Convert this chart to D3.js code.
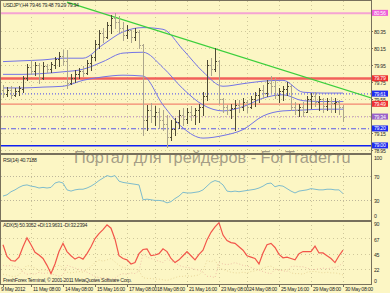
<!DOCTYPE html>
<html>
<head>
<meta charset="utf-8">
<script src="https://cdn.jsdelivr.net/npm/d3@7"></script>
<style>
body{margin:0;background:#fcf6c4;}
svg{display:block;font-family:"Liberation Sans",Arial,sans-serif;}
</style>
</head>
<body>
<div id="vis"></div>
<script>
// USDJPY H4 bars, one value per bar
var opens = [79.66,79.61,79.65,79.60,79.64,79.67,79.80,79.93,79.88,79.95,
  79.80,79.94,79.90,79.95,80.02,80.06,80.00,79.74,79.80,79.85,
  79.88,79.86,79.97,80.04,80.20,80.33,80.28,80.42,80.50,80.45,
  80.38,80.30,80.36,80.28,80.34,80.18,79.30,79.42,79.35,79.40,
  79.30,79.26,79.10,79.20,79.28,79.36,79.32,79.40,79.36,79.42,
  79.46,79.58,79.95,79.90,80.00,79.55,79.45,79.42,79.44,79.48,
  79.45,79.52,79.46,79.55,79.60,79.65,79.62,79.74,79.70,79.60,
  79.64,79.67,79.70,79.46,79.42,79.46,79.40,79.55,79.58,79.52,
  79.55,79.47,79.53,79.50,79.52,79.46];
var highs = [79.72,79.69,79.70,79.68,79.70,79.82,79.96,80.01,79.99,79.97,
  79.99,79.96,79.99,80.04,80.10,80.13,80.13,79.84,79.89,79.92,
  79.94,80.01,80.07,80.24,80.36,80.39,80.46,80.54,80.56,80.53,
  80.46,80.42,80.36,80.39,80.36,80.20,79.48,79.50,79.47,79.44,
  79.42,79.36,79.30,79.33,79.42,79.44,79.44,79.47,79.44,79.49,
  79.63,80.01,80.03,80.15,80.01,79.56,79.48,79.49,79.54,79.54,
  79.56,79.54,79.59,79.63,79.68,79.72,79.77,79.82,79.80,79.68,
  79.70,79.75,79.72,79.51,79.49,79.51,79.59,79.62,79.63,79.59,
  79.56,79.56,79.57,79.56,79.54,79.48];
var lows = [79.57,79.59,79.56,79.59,79.60,79.63,79.77,79.84,79.83,79.74,
  79.78,79.87,79.87,79.92,79.94,79.95,79.68,79.73,79.75,79.80,
  79.82,79.84,79.89,80.01,80.15,80.22,80.27,80.33,80.39,80.34,
  80.24,80.27,80.22,80.24,80.15,79.13,79.19,79.28,79.24,79.21,
  79.19,78.99,79.07,79.13,79.21,79.24,79.27,79.30,79.26,79.28,
  79.36,79.54,79.83,79.88,79.50,79.40,79.37,79.33,79.19,79.40,
  79.42,79.40,79.44,79.47,79.51,79.56,79.59,79.63,79.56,79.51,
  79.54,79.60,79.42,79.37,79.35,79.35,79.40,79.44,79.47,79.42,
  79.40,79.42,79.40,79.40,79.37,79.29];
var closes = [79.61,79.65,79.60,79.64,79.68,79.80,79.93,79.88,79.95,79.80,
  79.94,79.90,79.96,80.02,80.06,80.00,79.74,79.80,79.85,79.88,
  79.86,79.97,80.04,80.20,80.33,80.28,80.42,80.50,80.45,80.38,
  80.30,80.36,80.28,80.34,80.18,79.30,79.42,79.35,79.40,79.30,
  79.26,79.10,79.20,79.28,79.36,79.32,79.40,79.36,79.42,79.46,
  79.58,79.95,79.90,80.00,79.55,79.45,79.42,79.44,79.48,79.45,
  79.52,79.46,79.55,79.60,79.65,79.62,79.74,79.70,79.60,79.64,
  79.67,79.70,79.46,79.42,79.46,79.40,79.55,79.58,79.52,79.55,
  79.47,79.53,79.50,79.52,79.46,79.34];

// bollinger bands read every 5 bars
var bandIdx = [0,5,10,15,20,25,30,35,40,45,50,55,60,65,70,75,80,85];
var upperBand = [79.99,80.00,80.01,80.03,80.03,80.19,80.34,80.39,80.37,80.13,79.87,79.70,79.73,79.76,79.77,79.63,79.62,79.62];
var middleBand = [79.84,79.84,79.85,79.87,79.90,79.99,80.09,80.10,79.92,79.67,79.48,79.41,79.46,79.56,79.60,79.53,79.52,79.52];
var lowerBand = [79.68,79.68,79.69,79.70,79.77,79.81,79.83,79.82,79.48,79.21,79.09,79.12,79.19,79.35,79.41,79.42,79.43,79.43];

var rsiValues = [37,39,44,47,51,54,55,53,52,50,51,50,51,58,60,58,47,45,47,48,
  48,50,53,57,62,66,70,68,70,61,59,58,57,56,55,31,32,31,30,30,
  29,26,28,33,37,43,42,42,43,44,47,53,59,62,60,55,45,44,45,44,
  45,46,47,48,50,53,57,58,52,54,53,49,45,42,45,46,47,49,48,47,
  47,48,48,47,47,41];
var adxValues = [58,41,35,34,40,55,68,58,47,43,38,28,16,30,48,60,48,42,37,40,
  37,45,55,67,74,80,87,82,66,42,38,36,30,32,45,51,52,42,43,45,
  52,48,38,32,36,42,48,42,36,44,50,65,76,84,90,72,64,61,60,55,
  50,42,40,38,30,46,58,60,54,44,39,40,38,36,45,48,48,48,56,46,
  46,42,38,32,42,50];
var plusDI = [15,14,12,12,14,22,28,26,24,20,22,20,22,26,28,25,18,17,18,19,
  18,22,26,32,36,34,36,38,33,28,25,24,22,23,20,10,9,9,8,8,
  7,6,8,10,12,12,13,12,13,14,20,35,33,36,25,22,20,18,17,17,
  18,17,19,20,22,24,26,27,23,21,21,22,17,16,16,15,18,19,19,18,
  17,18,17,17,16,14];
var minusDI = [28,27,28,26,25,18,15,16,15,18,16,17,16,14,12,14,28,26,24,22,
  21,18,15,12,10,10,9,8,9,14,16,15,17,16,20,45,40,38,36,34,
  32,38,34,32,28,26,25,24,22,21,18,12,12,10,32,30,29,30,32,30,
  28,27,25,23,21,19,17,16,22,21,20,19,26,27,26,26,24,22,22,23,
  24,23,24,25,27,32];

var priceTicks = [80.35,80.15,79.95,79.75,79.55,79.35,79.15,78.95];
var levelPrices = [80.56,79.79,79.61,79.49,79.34,79.20,79.00];
var trendIdx = [16,92.25];
var trendPrices = [80.69,79.56];
var rsiTicks = [100,70,30,0];
var adxTicks = [90,67,45,22,0];
var timeIdx = [0,7,15,23,31,38,46,54,61,69,77,85];
var timeLabels = ["9 May 2012","11 May 08:00","14 May 08:00","15 May 16:00","17 May 08:00","18 May 08:00",
  "21 May 16:00","23 May 08:00","24 May 08:00","25 May 16:00","29 May 08:00","30 May 08:00"];

var levelStyles = [
  {color:"#f5a3d3", width:2, dash:null, box:"#ee5fd8"},
  {color:"#f2605a", width:2.5, dash:null, box:"#ee3030"},
  {color:"#4646f0", width:1, dash:"1,2", box:"#1f2cf0"},
  {color:"#f06a5c", width:1, dash:null, box:"#ee3030"},
  {color:"#b884c8", width:1, dash:"1,2", box:"#9a62c8"},
  {color:"#5a5ae8", width:1, dash:"5,2,1,2", box:"#1f2cf0"},
  {color:"#1020f0", width:1.6, dash:null, box:"#1f2cf0"}
];

var W = 390, H = 293, right = 371;
var frameColor = "#77705c", gridColor = "#cfc79a", textColor = "#2a2a2a";

var svg = d3.select("#vis").append("svg").attr("width", W).attr("height", H);
svg.append("rect").attr("width", W).attr("height", H).attr("fill", "#fcf6c4");

var x = d3.scaleLinear().domain([0,85]).range([3,343]);
var y = d3.scaleLinear().domain([80.35,78.95]).range([31,150]);
var yRsi = d3.scaleLinear().domain([0,100]).range([219,157]);
var yAdx = d3.scaleLinear().domain([0,90]).range([284.6,222.7]);

var defs = svg.append("defs");
[["clipMain",1,153],["clipRsi",155,219],["clipAdx",222,284]].forEach(function(c){
  defs.append("clipPath").attr("id", c[0]).append("rect")
    .attr("x", 1).attr("y", c[1]).attr("width", right - 1).attr("height", c[2] - c[1]);
});

// grid
var grid = svg.append("g").attr("stroke", gridColor).attr("stroke-dasharray", "1,3");
grid.selectAll(".hg").data(priceTicks).enter().append("line")
  .attr("x1", 1).attr("x2", right).attr("y1", function(d){return Math.round(y(d)) + 0.5;})
  .attr("y2", function(d){return Math.round(y(d)) + 0.5;});
grid.selectAll(".vg").data(timeIdx.slice(1)).enter().append("line")
  .attr("x1", function(d){return Math.round(x(d)) + 0.5;}).attr("x2", function(d){return Math.round(x(d)) + 0.5;})
  .attr("y1", 1).attr("y2", 284);
grid.selectAll(".rg").data([70,30]).enter().append("line")
  .attr("x1", 1).attr("x2", right).attr("stroke", "#bdb69a").attr("stroke-dasharray", "1,2")
  .attr("y1", function(d){return Math.round(yRsi(d)) + 0.5;}).attr("y2", function(d){return Math.round(yRsi(d)) + 0.5;});
grid.selectAll(".ag").data([67.5,45,22.5]).enter().append("line")
  .attr("x1", 1).attr("x2", right)
  .attr("y1", function(d){return Math.round(yAdx(d)) + 0.5;}).attr("y2", function(d){return Math.round(yAdx(d)) + 0.5;});

// main pane
var main = svg.append("g").attr("clip-path", "url(#clipMain)");

main.selectAll(".lvl").data(levelPrices).enter().append("line")
  .attr("x1", 1).attr("x2", right)
  .attr("y1", function(d){return y(d);}).attr("y2", function(d){return y(d);})
  .attr("stroke", function(d,i){return levelStyles[i].color;})
  .attr("stroke-width", function(d,i){return levelStyles[i].width;})
  .attr("stroke-dasharray", function(d,i){return levelStyles[i].dash;});

var bandLine = d3.line().curve(d3.curveMonotoneX)
  .x(function(d){return x(d[0]);}).y(function(d){return y(d[1]);});
[upperBand, middleBand, lowerBand].forEach(function(band){
  main.append("path").datum(bandIdx.map(function(b,i){return [b, band[i]];}))
    .attr("d", bandLine).attr("fill", "none").attr("stroke", "#7474e6").attr("stroke-width", 1);
});

main.append("line")
  .attr("x1", x(trendIdx[0])).attr("y1", y(trendPrices[0]))
  .attr("x2", x(trendIdx[1])).attr("y2", y(trendPrices[1]))
  .attr("stroke", "#3ccf3c").attr("stroke-width", 1.3);

var bars = main.selectAll(".bar").data(d3.range(opens.length)).enter().append("g")
  .attr("stroke", function(i){return closes[i] >= opens[i] ? "#4f4a35" : "#aca58c";})
  .attr("shape-rendering", "crispEdges");
bars.append("line")
  .attr("x1", function(i){return Math.round(x(i)) + 0.5;}).attr("x2", function(i){return Math.round(x(i)) + 0.5;})
  .attr("y1", function(i){return y(highs[i]);}).attr("y2", function(i){return y(lows[i]) + 1;});
bars.append("line")
  .attr("x1", function(i){return Math.round(x(i)) - 1;}).attr("x2", function(i){return Math.round(x(i));})
  .attr("y1", function(i){return Math.round(y(opens[i])) + 0.5;}).attr("y2", function(i){return Math.round(y(opens[i])) + 0.5;});
bars.append("line")
  .attr("x1", function(i){return Math.round(x(i)) + 1;}).attr("x2", function(i){return Math.round(x(i)) + 2;})
  .attr("y1", function(i){return Math.round(y(closes[i])) + 0.5;}).attr("y2", function(i){return Math.round(y(closes[i])) + 0.5;});

// rsi pane
svg.append("g").attr("clip-path", "url(#clipRsi)").append("path")
  .datum(rsiValues)
  .attr("d", d3.line().x(function(d,i){return x(i);}).y(function(d){return yRsi(d);}))
  .attr("fill", "none").attr("stroke", "#7fbccc").attr("stroke-width", 1);

// adx pane
var adxG = svg.append("g").attr("clip-path", "url(#clipAdx)");
var adxLine = d3.line().x(function(d,i){return x(i);}).y(function(d){return yAdx(d);});
adxG.append("path").datum(plusDI).attr("d", adxLine).attr("fill", "none")
  .attr("stroke", "#e9d79a").attr("stroke-dasharray", "1,2");
adxG.append("path").datum(minusDI).attr("d", adxLine).attr("fill", "none")
  .attr("stroke", "#f0c2a8").attr("stroke-dasharray", "1,2");
adxG.append("path").datum(adxValues).attr("d", adxLine).attr("fill", "none")
  .attr("stroke", "#f2554a").attr("stroke-width", 1.2);

// watermark
svg.append("text").attr("x", 74).attr("y", 163).attr("font-size", 16.3)
  .attr("fill", "#8d8676").attr("fill-opacity", 0.8)
  .text("Портал для трейдеров - ForTrader.ru");

// frame
var frame = svg.append("g").attr("stroke", frameColor).attr("fill", "none");
frame.append("rect").attr("x", 0.5).attr("y", 0.5).attr("width", right).attr("height", 284);
frame.append("line").attr("x1", 0).attr("x2", right).attr("y1", 154).attr("y2", 154).attr("stroke-width", 2);
frame.append("line").attr("x1", 0).attr("x2", right).attr("y1", 221).attr("y2", 221).attr("stroke-width", 2);
frame.selectAll(".tt").data(timeIdx).enter().append("line")
  .attr("x1", function(d){return Math.round(x(d)) + 0.5;}).attr("x2", function(d){return Math.round(x(d)) + 0.5;})
  .attr("y1", 284.5).attr("y2", 287);

// axis labels (narrow, like the terminal font)
var fs = 5.2, ls = -0.3;
var axisText = svg.append("g").attr("font-size", fs).attr("letter-spacing", ls).attr("fill", textColor);
axisText.selectAll(".pt").data(priceTicks).enter().append("text")
  .attr("x", 374).attr("y", function(d){return y(d) + 3;}).text(function(d){return d.toFixed(2);});
frame.selectAll(".ptk").data(priceTicks).enter().append("line")
  .attr("x1", right).attr("x2", right + 2)
  .attr("y1", function(d){return Math.round(y(d)) + 0.5;}).attr("y2", function(d){return Math.round(y(d)) + 0.5;});
axisText.selectAll(".rt").data(rsiTicks).enter().append("text")
  .attr("x", 374).attr("y", function(d){return Math.min(yRsi(d) + 3, 218);}).text(function(d){return d;});
axisText.selectAll(".at").data(adxTicks).enter().append("text")
  .attr("x", 374).attr("y", function(d){return Math.min(yAdx(d) + 3, 283);}).text(function(d){return d;});
axisText.selectAll(".tl").data(timeIdx).enter().append("text")
  .attr("x", function(d,i){return i === 0 ? 1 : Math.round(x(d)) + 2;}).attr("y", 291)
  .text(function(d,i){return timeLabels[i];});

// price boxes on the right scale
var boxes = svg.selectAll(".box").data(levelPrices).enter().append("g");
boxes.append("rect").attr("x", 372).attr("width", 16).attr("height", 6)
  .attr("y", function(d){return y(d) - 3.3;})
  .attr("fill", function(d,i){return levelStyles[i].box;});
boxes.append("text").attr("x", 374).attr("y", function(d){return y(d) + 1.7;})
  .attr("font-size", fs).attr("letter-spacing", ls).attr("fill", "#ffffff").text(function(d){return d.toFixed(2);});

// captions
var cap = svg.append("g").attr("font-size", fs).attr("letter-spacing", ls).attr("fill", textColor);
cap.append("text").attr("x", 3).attr("y", 7).text("USDJPY,H4  79.46 79.48 79.29 79.34");
cap.append("text").attr("x", 3).attr("y", 162).text("RSI(14) 40.7188");
cap.append("text").attr("x", 3).attr("y", 227).text("ADX(5) 50.3052 +DI:13.9631 -DI:32.2394");
cap.append("text").attr("x", 3).attr("y", 282).text("FreshForex Terminal, © 2001-2011 MetaQuotes Software Corp.");
</script>
</body>
</html>
